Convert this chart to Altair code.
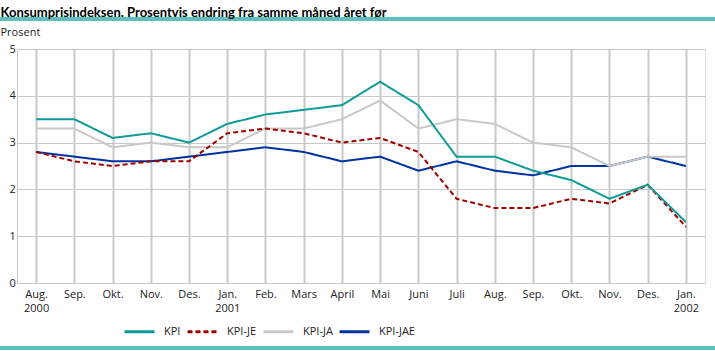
import json
import altair as alt
import pandas as pd

months = ["Aug.|2000", "Sep.", "Okt.", "Nov.", "Des.", "Jan.|2001", "Feb.", "Mars", "April",
          "Mai", "Juni", "Juli", "Aug.", "Sep.", "Okt.", "Nov.", "Des.", "Jan.|2002"]
kpi = [3.5, 3.5, 3.1, 3.2, 3.0, 3.4, 3.6, 3.7, 3.8, 4.3, 3.8, 2.7, 2.7, 2.4, 2.2, 1.8, 2.1, 1.3]
kpi_je = [2.8, 2.6, 2.5, 2.6, 2.6, 3.2, 3.3, 3.2, 3.0, 3.1, 2.8, 1.8, 1.6, 1.6, 1.8, 1.7, 2.1, 1.2]
kpi_ja = [3.3, 3.3, 2.9, 3.0, 2.9, 2.9, 3.3, 3.3, 3.5, 3.9, 3.3, 3.5, 3.4, 3.0, 2.9, 2.5, 2.7, 2.7]
kpi_jae = [2.8, 2.7, 2.6, 2.6, 2.7, 2.8, 2.9, 2.8, 2.6, 2.7, 2.4, 2.6, 2.4, 2.3, 2.5, 2.5, 2.7, 2.5]

series_names = ["KPI", "KPI-JE", "KPI-JA", "KPI-JAE"]
series_vals = [kpi, kpi_je, kpi_ja, kpi_jae]
colors = ["#0e9b98", "#a00000", "#c8c8c8", "#0033a0"]
dashes = [[1, 0], [5, 3], [1, 0], [1, 0]]

rows = []
for name, vals in zip(series_names, series_vals):
    for i, v in enumerate(vals):
        rows.append({"i": i, "serie": name, "verdi": v})
df = pd.DataFrame(rows)

label_expr = "split(" + json.dumps(months) + "[datum.value], '|')"
FONT = "Open Sans"

x = alt.X("i:O", title=None,
          scale=alt.Scale(type="point", padding=0.5),
          axis=alt.Axis(labelExpr=label_expr, labelAngle=0, ticks=False,
                        grid=True, gridColor="#c8c8c8", gridWidth=2,
                        domainColor="#c8c8c8", domainWidth=1,
                        labelPadding=5, labelFontSize=11, labelColor="#222222",
                        labelLineHeight=14, labelFont=FONT))
y = alt.Y("verdi:Q", title=None,
          scale=alt.Scale(domain=[0, 5], nice=False, zero=True),
          axis=alt.Axis(values=[0, 1, 2, 3, 4, 5], format="d", ticks=False,
                        grid=True, gridColor="#c8c8c8", gridWidth=1,
                        domainColor="#c8c8c8", labelPadding=8,
                        labelAlign="left", labelFontSize=11, labelColor="#222222",
                        labelFont=FONT))
color = alt.Color("serie:N", title=None,
                  scale=alt.Scale(domain=series_names, range=colors),
                  legend=alt.Legend(orient="none", direction="horizontal",
                                    legendX=106, legendY=266,
                                    symbolType="stroke", symbolSize=900,
                                    symbolStrokeWidth=3, labelFontSize=11,
                                    labelFont=FONT, labelColor="#222222",
                                    columnPadding=0, labelOffset=8))
dash = alt.StrokeDash("serie:N", title=None,
                      scale=alt.Scale(domain=series_names, range=dashes),
                      legend=None)

draw_order = ["KPI-JAE", "KPI-JA", "KPI-JE", "KPI"]
layers = []
for name in draw_order:
    layers.append(
        alt.Chart(df).transform_filter(alt.datum.serie == name)
        .mark_line(strokeWidth=2)
        .encode(x=x, y=y, color=color, strokeDash=dash)
    )

rule_top = alt.Chart(df).mark_rule(color="#5cc0bb", strokeWidth=3).encode(
    x=alt.value(-17), x2=alt.value(698), y=alt.value(-30))
rule_bot = alt.Chart(df).mark_rule(color="#5cc0bb", strokeWidth=3).encode(
    x=alt.value(-17), x2=alt.value(698), y=alt.value(299))

chart = alt.layer(*layers, rule_top, rule_bot).properties(
    width=688, height=234,
    autosize=alt.AutoSizeParams(type="none"),
    padding={"left": 17, "top": 49, "right": 10, "bottom": 68},
    title=alt.Title(text="Konsumprisindeksen. Prosentvis endring fra samme måned året før",
                    subtitle="Prosent", anchor="start", dx=2, dy=28, offset=8,
                    font="Lato", fontSize=13, fontWeight="bold", color="#000000",
                    subtitleFont=FONT, subtitleFontSize=11, subtitleColor="#222222",
                    subtitlePadding=7),
).configure_view(stroke=None).configure(background="white")

chart.save("out.html", embed_options={"renderer": "svg", "actions": False})
